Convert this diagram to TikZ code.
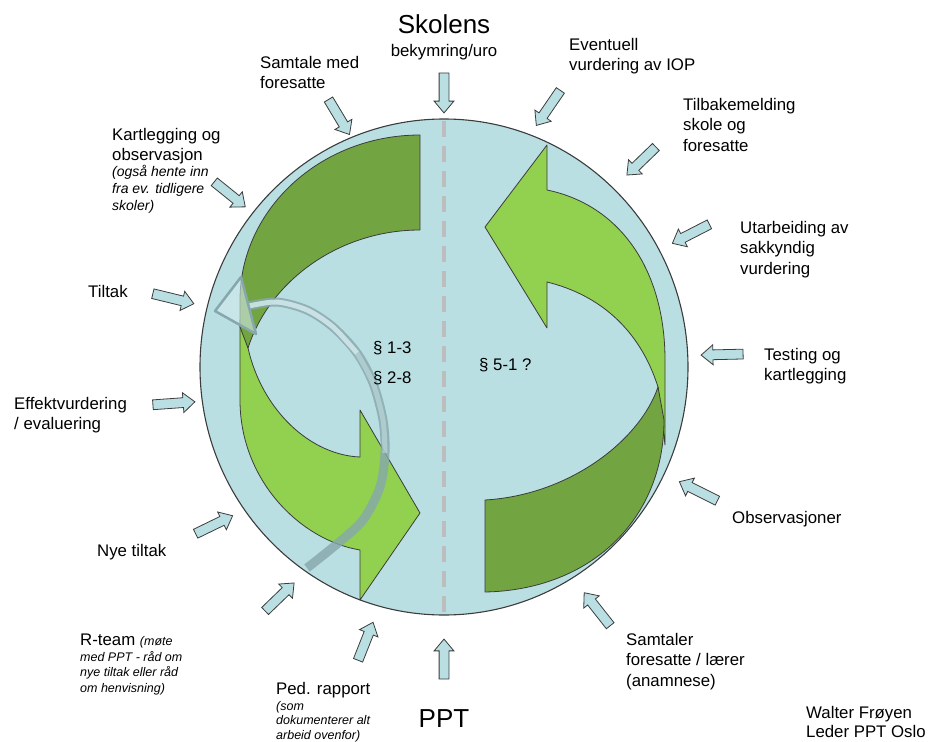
\documentclass[tikz,border=0pt]{standalone}
\usepackage{fontspec}
\setmainfont{Liberation Sans}
\usetikzlibrary{calc,shapes.arrows}
\definecolor{circfill}{HTML}{B9DFE3}
\definecolor{darkg}{HTML}{72A541}
\definecolor{lightg}{HTML}{92D050}
\definecolor{edgec}{HTML}{3C3C3C}
\definecolor{dashc}{HTML}{BDBDBD}
\definecolor{bandc}{HTML}{86A7AD}
\definecolor{palec}{HTML}{D3EAEC}
\newcommand\ml[1]{\begin{tabular}[t]{@{}l@{}}#1\end{tabular}}
\newcommand\blockarrow[3]{\path let \p1=(#2), \p2=(#3), \n1={atan2(\y2-\y1,\x2-\x1)}, \n2={veclen(\x2-\x1,\y2-\y1)} in node[blockarr, rotate=\n1, minimum height=\n2] (#1) at ($(#2)!0.5!(#3)$) {};}
\tikzset{
  lbl/.style={inner sep=0pt, anchor=base west, font=\fontsize{16.8}{20.5}\selectfont},
  ital/.style={inner sep=0pt, anchor=base west, font=\fontsize{14}{17}\selectfont\itshape},
  itsmall/.style={inner sep=0pt, anchor=base west, font=\fontsize{12.5}{14.5}\selectfont\itshape},
  big/.style={inner sep=0pt, anchor=base, font=\fontsize{26}{30}\selectfont},
  blockarr/.style={single arrow, draw=edgec, fill=circfill, line width=0.8pt,
    inner xsep=0pt, inner ysep=4.5pt, text height=0pt, text depth=0pt,
    single arrow head extend=5pt, single arrow tip angle=80, single arrow head indent=0pt,
    minimum width=19pt, anchor=center},
  greenshape/.style={draw=edgec, line width=0.8pt, line join=round},
}
\begin{document}
\begin{tikzpicture}[x=1pt,y=-1pt]
\useasboundingbox (0,0) rectangle (930,742);
% circle
\draw[fill=circfill, draw=edgec, line width=1.1pt] (444,367) ellipse [x radius=244pt, y radius=248pt];
\draw[dashc, line width=3.5pt, dash pattern=on 16pt off 9pt] (444,121) -- (444,614);
% left curved arrow
\draw[greenshape, fill=lightg] (240,320) -- (240,400) .. controls (240,480) and (300,540) .. (360,550)
  -- (360,600) -- (420,513) -- (360,410) -- (360,457)
  .. controls (310,455) and (262,410) .. (248,348) -- cycle;
\draw[greenshape, fill=darkg] (420,135) .. controls (320,135) and (240,210) .. (240,300)
  -- (240,327) -- (248,348) .. controls (270,280) and (340,230) .. (420,230) -- cycle;
% right curved arrow
\draw[greenshape, fill=lightg] (485,227) -- (547,145) -- (547,190)
  .. controls (620,205) and (665,270) .. (665,360) -- (665,445) -- (658,387)
  .. controls (640,330) and (600,295) .. (547,282) -- (547,328) -- cycle;
\draw[greenshape, fill=darkg] (485,500) .. controls (570,495) and (640,440) .. (658,387)
  -- (664,420) .. controls (664,520) and (590,590) .. (485,592) -- cycle;
% translucent curved arrow
\draw[bandc, opacity=0.8, line width=9pt] plot[smooth] coordinates {(307,568) (337,544) (363,520) (380,487) (385,453) (383,420) (373,383) (357,353) (333,327) (307,310) (277,302) (248,306)};
\draw[palec, opacity=0.45, line width=5pt] plot[smooth] coordinates {(385,453) (383,420) (373,383) (357,353)};
\draw[palec, opacity=0.85, line width=5pt] plot[smooth] coordinates {(357,353) (333,327) (307,310) (277,302) (249,306)};
\draw[bandc, line width=2.5pt, fill=palec, fill opacity=0.6, line join=round] (215,311) -- (241,277) -- (256,334) -- cycle;
% inner texts
\node[lbl] (p13) at (373,353) {§ 1-3};
\node[lbl] (p28) at (373,383) {§ 2-8};
\node[lbl] (p51) at (479,370) {§ 5-1 ?};
% labels
\node[big] (sk) at (444,33) {Skolens};
\node[lbl, anchor=base] (bek) at (444,56) {bekymring/uro};
\node[big] (ppt) at (444,727) {PPT};
\node[lbl] (sam) at (260,68) {\ml{Samtale med\\foresatte}};
\node[lbl] (kart) at (112,140) {\ml{Kartlegging og\\observasjon}};
\node[ital] (karti) at (112,176) {\ml{(også hente inn\\fra ev. tidligere\\skoler)}};
\node[lbl] (tilt) at (88,297) {Tiltak};
\node[lbl] (eff) at (14,409) {\ml{Effektvurdering\\/ evaluering}};
\node[lbl] (nye) at (97,556) {Nye tiltak};
\node[lbl] (rt) at (80,645) {R-team {\fontsize{12.5}{15.5}\selectfont\itshape (møte}};
\node[itsmall, font=\fontsize{12.5}{15.5}\selectfont\itshape] (rti) at (80,661) {\ml{med PPT - råd om\\nye tiltak eller råd\\om henvisning)}};
\node[lbl] (ped) at (276,694) {Ped. rapport};
\node[itsmall] (pedi) at (276,710) {\ml{(som\\dokumenterer alt\\arbeid ovenfor)}};
\node[lbl] (samt) at (626,645) {\ml{Samtaler\\foresatte / lærer\\(anamnese)}};
\node[lbl] (obs) at (732,523) {Observasjoner};
\node[lbl] (test) at (764,360) {\ml{Testing og\\kartlegging}};
\node[lbl, font=\fontsize{16.8}{19.5}\selectfont] (walt) at (806,718) {\ml{Walter Frøyen\\Leder PPT Oslo}};
\node[lbl] (utar) at (740,233) {\ml{Utarbeiding av\\sakkyndig\\vurdering}};
\node[lbl] (tilb) at (683,110) {\ml{Tilbakemelding\\skole og\\foresatte}};
\node[lbl] (even) at (569,50) {\ml{Eventuell\\vurdering av IOP}};
% block arrows
\coordinate (s1) at (444,70);  \coordinate (e1) at (444,110);
\coordinate (s2) at (444,682); \coordinate (e2) at (444,642);
\coordinate (s3) at (562,88);  \coordinate (e3) at (538,123);
\coordinate (s4) at (658,145); \coordinate (e4) at (629,173);
\coordinate (s5) at (712,223); \coordinate (e5) at (675,242);
\coordinate (s6) at (746,354); \coordinate (e6) at (704,355);
\coordinate (s7) at (720,502); \coordinate (e7) at (682,483);
\coordinate (s8) at (612,628); \coordinate (e8) at (586,595);
\coordinate (s9) at (357,663); \coordinate (e9) at (372,625);
\coordinate (s10) at (263,613); \coordinate (e10) at (292,585);
\coordinate (s11) at (193,535); \coordinate (e11) at (230,517);
\coordinate (s12) at (150,405); \coordinate (e12) at (192,402);
\coordinate (s13) at (150,293); \coordinate (e13) at (191,303);
\coordinate (s14) at (212,180); \coordinate (e14) at (243,205);
\coordinate (s15) at (327,97);  \coordinate (e15) at (348,132);
\blockarrow{a1}{s1}{e1}
\blockarrow{a2}{s2}{e2}
\blockarrow{a3}{s3}{e3}
\blockarrow{a4}{s4}{e4}
\blockarrow{a5}{s5}{e5}
\blockarrow{a6}{s6}{e6}
\blockarrow{a7}{s7}{e7}
\blockarrow{a8}{s8}{e8}
\blockarrow{a9}{s9}{e9}
\blockarrow{a10}{s10}{e10}
\blockarrow{a11}{s11}{e11}
\blockarrow{a12}{s12}{e12}
\blockarrow{a13}{s13}{e13}
\blockarrow{a14}{s14}{e14}
\blockarrow{a15}{s15}{e15}
\end{tikzpicture}
\end{document}
